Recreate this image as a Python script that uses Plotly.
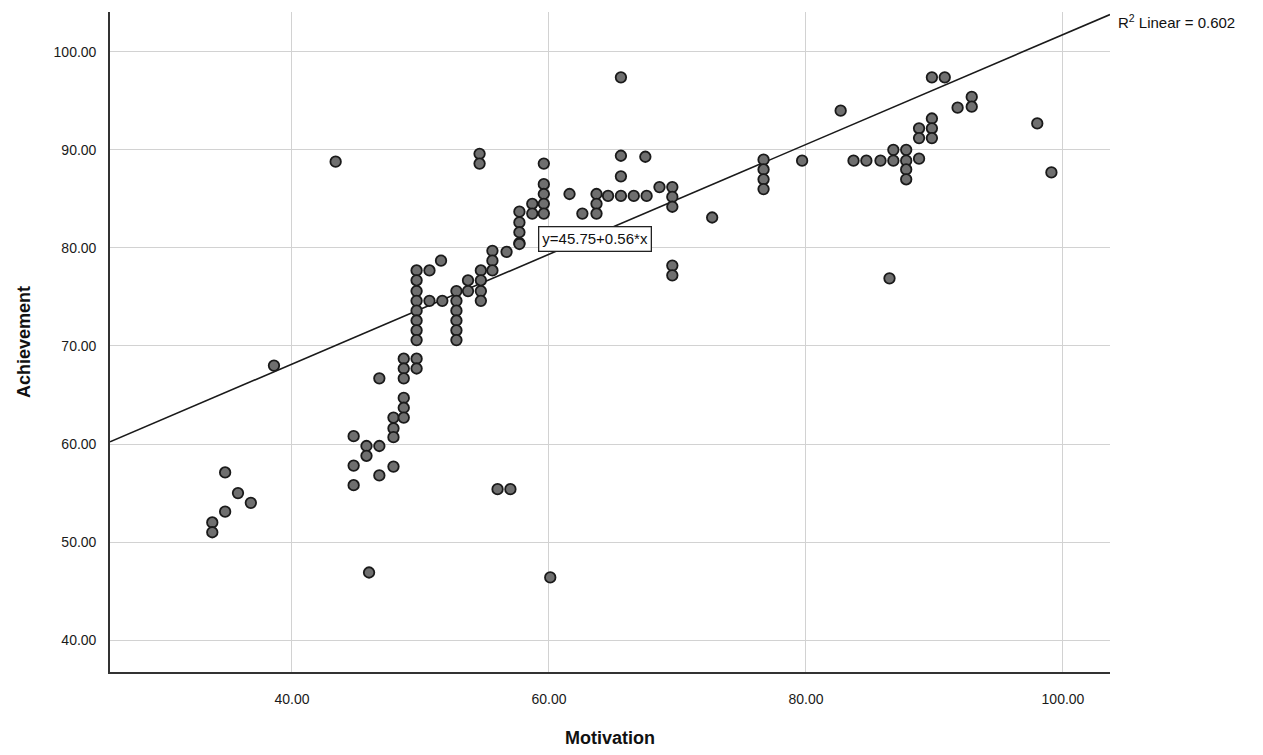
import numpy as np
import plotly.graph_objects as go

# Data (Motivation, Achievement)
motivation = [
    33.8, 33.8, 34.8, 34.8, 35.8, 36.8, 38.6, 43.4,
    44.8, 44.8, 44.8, 45.8, 45.8, 46.0, 46.8, 46.8, 46.8,
    47.9, 47.9, 47.9, 47.9,
    48.7, 48.7, 48.7, 48.7, 48.7, 48.7,
    49.7, 49.7, 49.7, 49.7, 49.7, 49.7, 49.7, 49.7, 49.7, 49.7,
    50.7, 50.7, 51.6, 51.7,
    52.8, 52.8, 52.8, 52.8, 52.8, 52.8,
    53.7, 53.7,
    54.6, 54.6, 54.7, 54.7, 54.7, 54.7,
    55.6, 55.6, 55.6, 56.0, 56.7, 57.0, 57.7,
    57.7, 57.7, 57.7, 57.7,
    58.7, 58.7,
    59.6, 59.6, 59.6, 59.6, 59.6,
    60.1,
    61.6, 62.6, 63.7, 63.7, 63.7, 64.6,
    65.6, 65.6, 65.6, 65.6, 66.6, 67.5, 67.6, 68.6,
    69.6, 69.6, 69.6, 69.6, 69.6,
    72.7,
    76.7, 76.7, 76.7, 76.7,
    79.7, 82.7, 83.7, 84.7, 85.8,
    86.5, 86.8, 86.8,
    87.8, 87.8, 87.8, 87.8,
    88.8, 88.8, 88.8,
    89.8, 89.8, 89.8, 89.8, 90.8,
    91.8, 92.9, 92.9, 98.0, 99.1,
]
achievement = [
    52.0, 51.0, 57.1, 53.1, 55.0, 54.0, 68.0, 88.8,
    60.8, 57.8, 55.8, 59.8, 58.8, 46.9, 59.8, 56.8, 66.7,
    62.7, 61.6, 60.7, 57.7,
    68.7, 67.7, 66.7, 64.7, 63.7, 62.7,
    77.7, 76.7, 75.6, 74.6, 73.6, 72.6, 71.6, 70.6, 68.7, 67.7,
    77.7, 74.6, 78.7, 74.6,
    75.6, 74.6, 73.6, 72.6, 71.6, 70.6,
    76.7, 75.6,
    89.6, 88.6, 77.7, 76.7, 75.6, 74.6,
    79.7, 78.7, 77.7, 55.4, 79.6, 55.4, 80.5,
    83.7, 82.6, 81.6, 80.4,
    84.5, 83.5,
    88.6, 86.5, 85.5, 84.5, 83.5,
    46.4,
    85.5, 83.5, 85.5, 84.5, 83.5, 85.3,
    97.4, 89.4, 87.3, 85.3, 85.3, 89.3, 85.3, 86.2,
    86.2, 85.2, 84.2, 78.2, 77.2,
    83.1,
    89.0, 88.0, 87.0, 86.0,
    88.9, 94.0, 88.9, 88.9, 88.9,
    76.9, 90.0, 88.9,
    90.0, 88.9, 88.0, 87.0,
    92.2, 91.2, 89.1,
    97.4, 93.2, 92.2, 91.2, 97.4,
    94.3, 95.4, 94.4, 92.7, 87.7,
]

# Fit line coefficients as printed on the chart
intercept = 45.75
slope = 0.56
r2_text = "R<sup>2</sup> Linear = 0.602"
eq_text = "y=45.75+0.56*x"
x_title = "Motivation"
y_title = "Achievement"

x_range = [25.84, 103.66]
y_range = [36.75, 104.06]
x_ticks = [40, 60, 80, 100]
y_ticks = [40, 50, 60, 70, 80, 90, 100]

fit_x = np.array(x_range)
fit_y = intercept + slope * fit_x

fig = go.Figure()
fig.add_trace(go.Scatter(
    x=fit_x, y=fit_y, mode="lines",
    line=dict(color="#1a1a1a", width=1.6),
    hoverinfo="skip", showlegend=False,
))
fig.add_trace(go.Scatter(
    x=motivation, y=achievement, mode="markers",
    marker=dict(size=10.5, color="#6f6f6f", line=dict(color="#1a1a1a", width=1.8)),
    showlegend=False,
))

font_family = "Liberation Sans, Arial, sans-serif"

fig.update_layout(
    width=1263, height=755,
    margin=dict(l=102, r=161, t=4, b=91),
    paper_bgcolor="white", plot_bgcolor="white",
    font=dict(family=font_family, size=14, color="#222"),
    xaxis=dict(
        range=x_range, tickvals=x_ticks,
        ticktext=[f"{v:.2f}" for v in x_ticks],
        showgrid=True, gridcolor="#d2d2d2", gridwidth=1,
        showline=True, linecolor="#333", linewidth=1.6,
        zeroline=False, ticks="", ticklabelstandoff=13,
        tickfont=dict(size=14, color="#1a1a1a"),
        title=dict(text=f"<b>{x_title}</b>", standoff=26,
                   font=dict(size=18, color="#111")),
        automargin=False,
    ),
    yaxis=dict(
        range=y_range, tickvals=y_ticks,
        ticktext=[f"{v:.2f}" for v in y_ticks],
        showgrid=True, gridcolor="#d2d2d2", gridwidth=1,
        showline=True, linecolor="#333", linewidth=1.6,
        zeroline=False, ticks="", ticklabelstandoff=9,
        tickfont=dict(size=14, color="#1a1a1a"),
        title=dict(text=f"<b>{y_title}</b>", standoff=18,
                   font=dict(size=18, color="#111")),
        automargin=False,
    ),
    annotations=[
        dict(x=63.6, y=80.9, xref="x", yref="y", text=eq_text,
             showarrow=False, bgcolor="white", bordercolor="#222",
             borderwidth=1.3, borderpad=3, font=dict(size=15, color="#111")),
        dict(x=1.006, y=0.985, xref="paper", yref="paper", text=r2_text,
             showarrow=False, xanchor="left", yanchor="middle",
             font=dict(size=15, color="#111")),
    ],
)

fig.write_html("out.html")
